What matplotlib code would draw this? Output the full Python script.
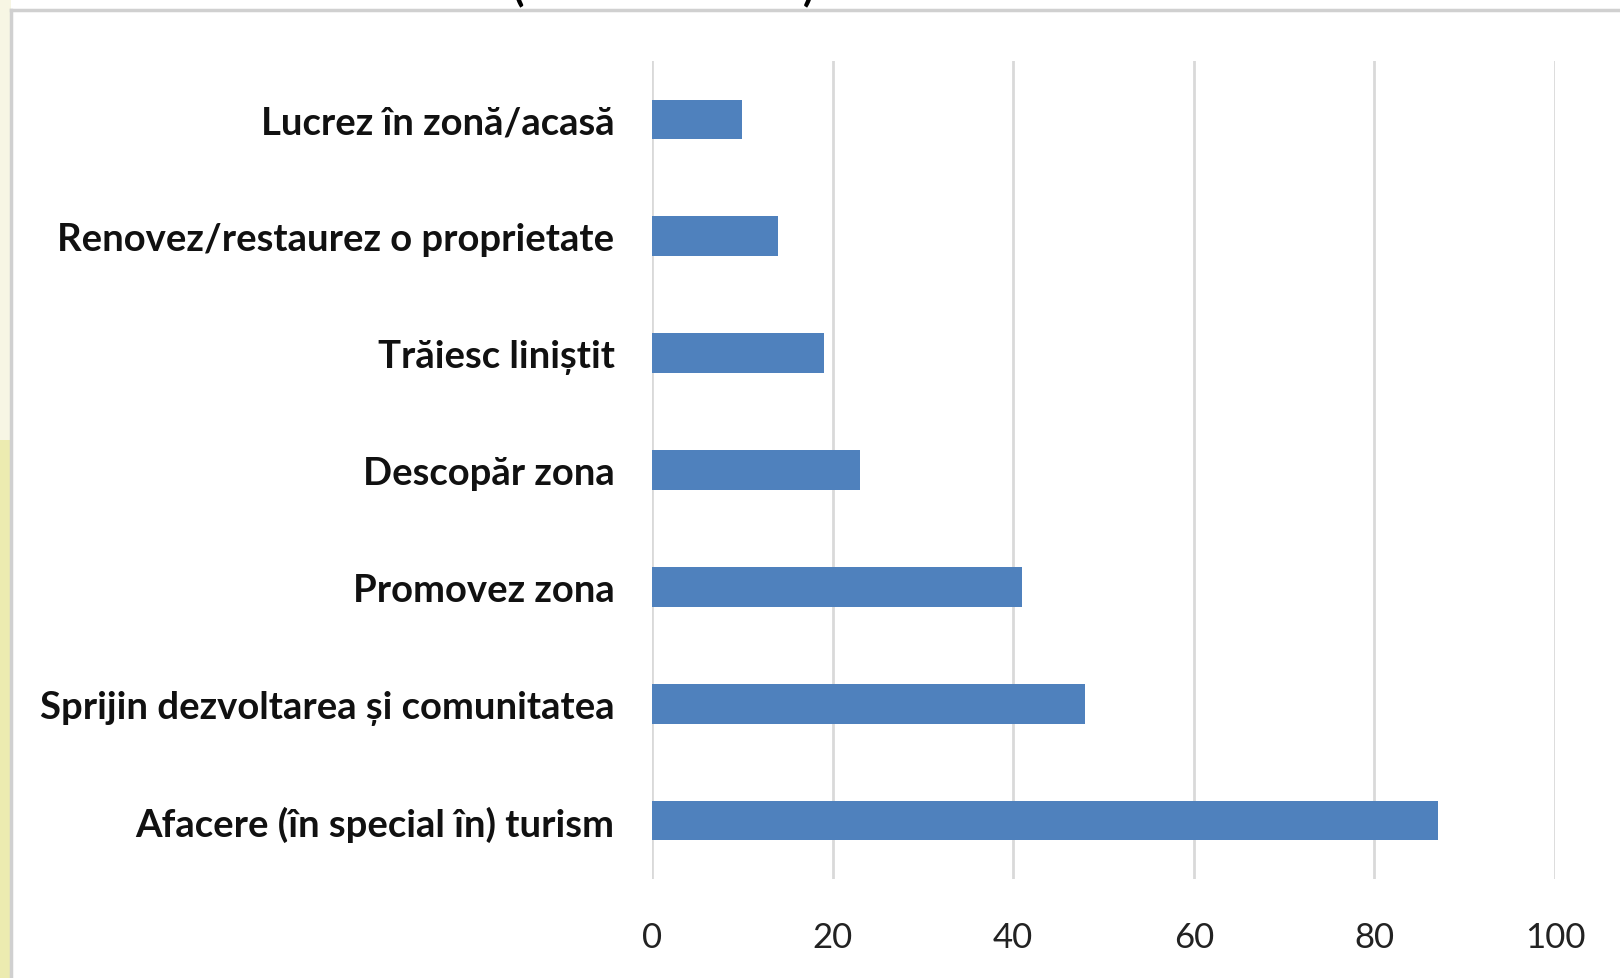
import matplotlib
matplotlib.use('Agg')
import matplotlib.pyplot as plt
from matplotlib.patches import Rectangle
from matplotlib.lines import Line2D

# data, top to bottom as shown in the chart
categories = [
    'Lucrez în zonă/acasă',
    'Renovez/restaurez o proprietate',
    'Trăiesc liniștit',
    'Descopăr zona',
    'Promovez zona',
    'Sprijin dezvoltarea și comunitatea',
    'Afacere (în special în) turism',
]
values = [10, 14, 19, 23, 41, 48, 87]
xticks = [0, 20, 40, 60, 80, 100]

bar_color = '#4f81bd'
grid_color = '#d9d9d9'

plt.rcParams['font.family'] = ['Lato', 'DejaVu Sans']

fig = plt.figure(figsize=(16.2, 9.79), dpi=100)
fig.patch.set_facecolor('white')

# pale yellow strip at the left edge and the grey chart frame
fig.patches.append(Rectangle((0, 0), 11 / 1620, 0.55, transform=fig.transFigure,
                             facecolor='#ecebb0', edgecolor='none', zorder=0))
fig.patches.append(Rectangle((0, 0.55), 11 / 1620, 0.45, transform=fig.transFigure,
                             facecolor='#f7f6e4', edgecolor='none', zorder=0))
fig.lines.append(Line2D([11 / 1620, 11 / 1620], [0, 1 - 11 / 979],
                        transform=fig.transFigure, color='#d0d0d0', lw=2.5))
fig.lines.append(Line2D([11 / 1620, 1], [1 - 11 / 979, 1 - 11 / 979],
                        transform=fig.transFigure, color='#d0d0d0', lw=2.5))

# title sits above the visible area, only the bottom of its brackets shows
fig.text(513 / 1620, 1.0, '(', fontsize=30, fontweight='bold', va='baseline', ha='left')
fig.text(803 / 1620, 1.0, ')', fontsize=30, fontweight='bold', va='baseline', ha='left')

ax = fig.add_axes([652 / 1620, 1 - 880 / 979, (1555 - 652) / 1620, (880 - 62) / 979])
ax.set_facecolor('none')

ypos = list(range(len(categories)))[::-1]
ax.barh(ypos, values, height=0.34, color=bar_color, zorder=3)

ax.set_xlim(0, 100)
ax.set_ylim(-0.5, len(categories) - 0.5)
ax.set_xticks(xticks)
ax.set_xticklabels([str(t) for t in xticks], fontsize=25, color='#222222')
ax.set_yticks(ypos)
ax.set_yticklabels(categories, fontsize=27.5, fontweight='bold', color='#111111')
ax.tick_params(axis='x', length=0, pad=30)
ax.tick_params(axis='y', length=0, pad=27)

ax.grid(axis='x', color=grid_color, lw=2, zorder=0)
for s in ax.spines.values():
    s.set_visible(False)

fig.savefig('out.png', dpi=100)
